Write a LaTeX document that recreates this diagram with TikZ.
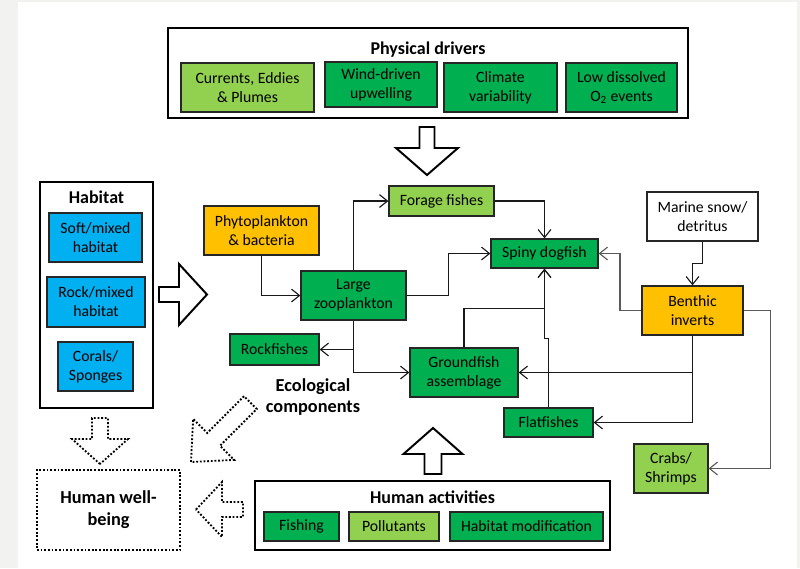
\documentclass[tikz,border=0pt]{standalone}
\usepackage{fontspec}
\setmainfont{Carlito}
\usepackage{xcolor}
\usetikzlibrary{arrows.meta,calc}
\definecolor{dkgreen}{HTML}{00B050}
\definecolor{ltgreen}{HTML}{92D050}
\definecolor{amber}{HTML}{FFC000}
\definecolor{skyblue}{HTML}{00B0F0}
\definecolor{pagegrey}{HTML}{F2F2F0}
\definecolor{linegrey}{HTML}{5A5A5A}
\tikzset{
  blk/.style={draw=black!85, line width=0.9pt, fill=#1, align=center,
              inner sep=1pt, font=\fontsize{11.2}{13.5}\selectfont},
  sz/.style 2 args={minimum width=#1*0.025cm, minimum height=#2*0.025cm},
  grp/.style={draw=black, line width=1.6pt, fill=white},
  head/.style={font=\fontsize{12.8}{15}\selectfont\bfseries, inner sep=0pt},
  big/.style={font=\fontsize{13}{15.5}\selectfont\bfseries, align=center, inner sep=0pt},
  flow/.style={-{Straight Barb[length=2mm,width=3.2mm]}, line width=0.8pt,
               draw=black!90},
  greyflow/.style={flow, draw=linegrey},
  fatline/.style={draw=black, line width=1.4pt, fill=white, line join=miter},
  dotline/.style={draw=black, line width=1.3pt, fill=white,
                  dash pattern=on 1.3pt off 1.3pt},
  pics/fatarrow/.style n args={4}{code={
    \draw[pic actions] (0,0) -- (-#2,#4) -- (-#2,#3) -- (-#1,#3)
      -- (-#1,-#3) -- (-#2,-#3) -- (-#2,-#4) -- cycle;}},
}

\begin{document}
\begin{tikzpicture}[x=0.025cm, y=-0.025cm]
\fill[pagegrey] (0,0) rectangle (800,568);
\fill[white] (18,2) rectangle (797,568);

% physical drivers
\node[grp, sz={520}{90}] (phys) at (428,73) {};
\node[head] (physt) at (428,50) {Physical drivers};
\node[blk=ltgreen, sz={133}{49}] (cur)  at (247.5,87.5) {Currents, Eddies\\\& Plumes};
\node[blk=dkgreen, sz={112}{45}] (wind) at (381,84.5)   {Wind-driven\\upwelling};
\node[blk=dkgreen, sz={113}{49}] (clim) at (500.5,87.5) {Climate\\variability};
\node[blk=dkgreen, sz={111}{49}] (lowo) at (621.5,87.5) {Low dissolved\\O\textsubscript{2} events};

% habitat
\node[grp, sz={113}{226}] (hab) at (96.5,295) {};
\node[head] (habt) at (96.5,197) {Habitat};
\node[blk=skyblue, sz={93}{49}] (soft)  at (95.5,237.5) {Soft/mixed\\habitat};
\node[blk=skyblue, sz={98}{50}] (rock)  at (96,302)     {Rock/mixed\\habitat};
\node[blk=skyblue, sz={75}{49}] (coral) at (95.5,366.5) {Corals/\\Sponges};

% ecological components
\node[blk=amber,   sz={115}{49}] (phyto)   at (261.5,230.5) {Phytoplankton\\\& bacteria};
\node[blk=dkgreen, sz={105}{49}] (zoo)     at (353.5,295.5) {Large\\zooplankton};
\node[blk=ltgreen, sz={105}{30}] (forage)  at (441.5,201)   {Forage fishes};
\node[blk=dkgreen, sz={89}{31}]  (rockf)   at (274.5,349.5) {Rockfishes};
\node[blk=dkgreen, sz={108}{49}] (ground)  at (464,372.5)   {Groundfish\\assemblage};
\node[blk=dkgreen, sz={107}{29}] (spiny)   at (544.5,253.5) {Spiny dogfish};
\node[blk=white,   sz={111}{49}] (snow)    at (702.5,216.5) {Marine snow/\\detritus};
\node[blk=amber,   sz={101}{49}] (benthic) at (692.5,310.5) {Benthic\\inverts};
\node[blk=dkgreen, sz={89}{29}]  (flat)    at (548.5,422.5) {Flatfishes};
\node[blk=ltgreen, sz={74}{49}]  (crabs)   at (671,468.5)   {Crabs/\\Shrimps};
\node[big] (ecot) at (313,397) {Ecological\\components};

% human activities
\node[grp, sz={355}{69}] (hum) at (432.5,515.5) {};
\node[head] (humt) at (432.5,497) {Human activities};
\node[blk=dkgreen, sz={75}{29}]  (fish)   at (301.5,526.5) {Fishing};
\node[blk=ltgreen, sz={90}{29}]  (poll)   at (394,526.5)   {Pollutants};
\node[blk=dkgreen, sz={153}{29}] (habmod) at (526.5,526.5) {Habitat modification};

% human well-being
\node[dotline, big, sz={143}{80}] (well) at (108.5,510) {Human well-\\being};

% food web links
\draw[flow] (phyto.south) |- (zoo.west);
\draw[flow] (zoo.north) |- (forage.west);
\draw[flow] (zoo.east) -| ($(zoo.east)!.5!(spiny.west)$) |- (spiny.west);
\draw[flow] (zoo.south) |- (rockf.east);
\draw[flow] (zoo.south) |- (ground.west);
\draw[flow] (forage.east) -| (spiny.north);
\coordinate (jn1) at ($(spiny.south)+(0,40)$);
\coordinate (jn2) at ($(spiny.south)+(0,70)$);
\draw[flow] (ground.north) |- (jn1) -- (spiny.south);
\draw[flow] (flat.north) |- (jn2) -- (spiny.south);
\draw[greyflow] (benthic.west) -| ($(benthic.west)!.5!(spiny.east)$) |- (spiny.east);
\draw[flow] (snow.south) |- ($(snow.south)!.5!(benthic.north)$) -| (benthic.north);
\draw[flow] (benthic.south) |- (ground.east);
\draw[flow] (benthic.south) |- (flat.east);
\draw[greyflow] (benthic.east) -- ++(27,0) |- (crabs.east);

% block arrows
\pic[fatline, rotate=-90] at (427,175) {fatarrow={48}{27}{7.5}{31}};
\pic[fatline] at (207,294.5) {fatarrow={48}{28}{7.5}{30.5}};
\pic[fatline, rotate=90] at (433,428) {fatarrow={46}{26}{8.5}{29.5}};
\pic[dotline, rotate=-90] at (100,464) {fatarrow={46}{25}{8}{28}};
\pic[dotline, rotate=180] at (196,509.5) {fatarrow={47}{26}{7.5}{27.5}};
\pic[dotline, rotate=-135] at (191,462) {fatarrow={84}{32}{9}{29}};
\end{tikzpicture}
\end{document}
